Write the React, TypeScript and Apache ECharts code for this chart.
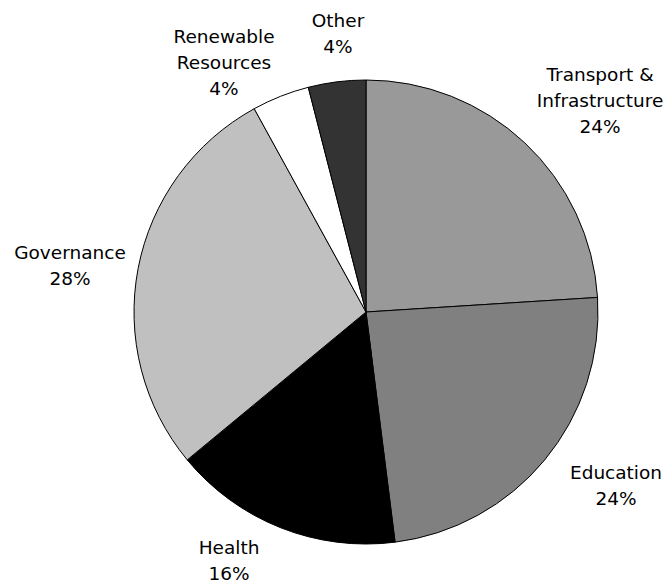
import React, { useEffect, useRef } from "react";
import * as echarts from "echarts";

const categories = ["Transport &\nInfrastructure", "Education", "Health", "Governance", "Renewable\nResources", "Other"];
const values = [24, 24, 16, 28, 4, 4];
const colors = ["#999999", "#808080", "#000000", "#c0c0c0", "#ffffff", "#333333"];

// label block centres, relative to the pie centre (styling only)
const labelOffsets: [number, number][] = [
  [234, -212],
  [250, 173],
  [-137, 248],
  [-296, -47],
  [-142, -250],
  [-28, -279],
];

const CX = 366;
const CY = 312;
const R = 232;

export default function App() {
  const ref = useRef<HTMLDivElement>(null);
  useEffect(() => {
    document.body.style.margin = "0";
    const chart = echarts.init(ref.current!, null, { renderer: "svg" });
    chart.setOption({
      animation: false,
      backgroundColor: "#ffffff",
      series: [
        {
          type: "pie",
          center: [CX, CY],
          radius: [0, R],
          startAngle: 90,
          clockwise: true,
          avoidLabelOverlap: false,
          data: categories.map((c, i) => ({
            name: c,
            value: values[i],
            itemStyle: { color: colors[i] },
          })),
          itemStyle: { borderColor: "#000000", borderWidth: 1 },
          label: {
            show: true,
            position: "outside",
            formatter: "{b}\n{d}%",
            fontFamily: "DejaVu Sans",
            fontSize: 18.5,
            lineHeight: 26,
            color: "#000000",
            align: "center",
          },
          labelLine: { show: false },
          emphasis: { disabled: true },
          labelLayout: (params: any) => {
            const o = labelOffsets[params.dataIndex];
            return {
              x: CX + o[0],
              y: CY + o[1],
              align: "center",
              verticalAlign: "middle",
            };
          },
        },
      ],
    });
    return () => chart.dispose();
  }, []);
  return <div ref={ref} style={{ width: 670, height: 585 }} />;
}
